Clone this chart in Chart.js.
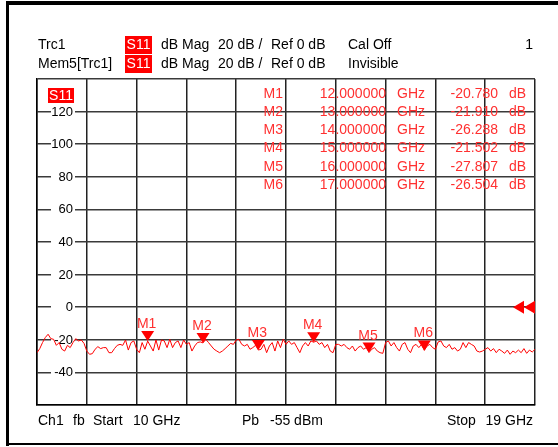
<!DOCTYPE html>
<html>
<head>
<meta charset="utf-8">
<script src="https://cdn.jsdelivr.net/npm/chart.js@4/dist/chart.umd.min.js"></script>
<style>
html,body{margin:0;padding:0;background:#fff;}
canvas{display:block;}
</style>
</head>
<body>
<canvas id="c" width="558" height="447"></canvas>
<script>
// ---- data ----
const freqs = [
10.00,10.05,10.10,10.15,10.20,10.25,10.30,10.35,10.40,10.45,10.50,10.55,10.60,10.65,10.70,10.75,10.80,10.85,10.90,10.95,
11.00,11.05,11.10,11.15,11.20,11.25,11.30,11.35,11.40,11.45,11.50,11.55,11.60,11.65,11.70,11.75,11.80,11.85,11.90,11.95,
12.00,12.05,12.10,12.15,12.20,12.25,12.30,12.35,12.40,12.45,12.50,12.55,12.60,12.65,12.70,12.75,12.80,12.85,12.90,12.95,
13.00,13.05,13.10,13.15,13.20,13.25,13.30,13.35,13.40,13.45,13.50,13.55,13.60,13.65,13.70,13.75,13.80,13.85,13.90,13.95,
14.00,14.05,14.10,14.15,14.20,14.25,14.30,14.35,14.40,14.45,14.50,14.55,14.60,14.65,14.70,14.75,14.80,14.85,14.90,14.95,
15.00,15.05,15.10,15.15,15.20,15.25,15.30,15.35,15.40,15.45,15.50,15.55,15.60,15.65,15.70,15.75,15.80,15.85,15.90,15.95,
16.00,16.05,16.10,16.15,16.20,16.25,16.30,16.35,16.40,16.45,16.50,16.55,16.60,16.65,16.70,16.75,16.80,16.85,16.90,16.95,
17.00,17.05,17.10,17.15,17.20,17.25,17.30,17.35,17.40,17.45,17.50,17.55,17.60,17.65,17.70,17.75,17.80,17.85,17.90,17.95,
18.00,18.05,18.10,18.15,18.20,18.25,18.30,18.35,18.40,18.45,18.50,18.55,18.60,18.65,18.70,18.75,18.80,18.85,18.90,18.95,
19.00];
const s11 = [
-27.9,-25.4,-21.7,-18.6,-16.6,-19.3,-19.7,-23.4,-21.7,-25.8,-26.9,-23.4,-24.8,-21.7,-19.3,-20.7,-20.1,-22.2,-26.9,-28.9,
-28.5,-25.8,-24.2,-25.4,-24.8,-24.8,-27.9,-27.9,-25.4,-23.4,-22.8,-23.4,-20.1,-26.3,-21.7,-20.7,-25.8,-27.9,-21.7,-25.8,
-20.78,-23.8,-26.9,-20.1,-26.3,-20.1,-20.7,-24.8,-19.7,-24.8,-21.7,-20.7,-24.8,-20.1,-22.8,-21.7,-26.9,-23.8,-21.7,-21.3,
-21.91,-19.7,-21.7,-23.8,-25.8,-26.9,-27.9,-26.9,-25.4,-23.8,-22.2,-22.8,-20.1,-19.7,-22.8,-23.8,-22.8,-25.8,-24.8,-23.4,
-26.288,-25.8,-22.8,-27.9,-23.8,-21.7,-26.9,-20.7,-24.8,-19.7,-22.8,-20.7,-22.8,-21.7,-24.8,-27.9,-23.8,-21.7,-23.8,-20.7,
-21.502,-20.7,-22.8,-21.7,-24.8,-22.8,-26.9,-27.9,-22.8,-22.8,-23.8,-22.8,-24.8,-25.8,-23.8,-26.9,-24.8,-23.8,-25.8,-24.8,
-27.807,-25.8,-24.8,-26.9,-27.9,-28.3,-21.7,-20.7,-23.8,-21.7,-24.8,-26.9,-22.8,-21.7,-25.8,-27.9,-23.8,-22.8,-24.8,-22.8,
-26.504,-23.8,-22.8,-24.8,-25.8,-21.3,-20.7,-23.8,-24.8,-22.8,-25.8,-24.8,-26.9,-25.8,-21.7,-24.8,-21.7,-22.8,-23.8,-26.9,
-27.5,-26.9,-25.8,-24.8,-26.9,-25.4,-27.9,-25.8,-26.9,-28.3,-26.3,-28.9,-26.9,-27.9,-26.3,-27.9,-25.4,-28.3,-26.3,-27.5,
-25.8];

const markerNames = ['M1','M2','M3','M4','M5','M6'];
const markerFreqs = [12, 13, 14, 15, 16, 17];
const markerVals  = [-20.780, -21.910, -26.288, -21.502, -27.807, -26.504];
const markerFreqText = ['12.000000','13.000000','14.000000','15.000000','16.000000','17.000000'];
const markerValText  = ['-20.780','-21.910','-26.288','-21.502','-27.807','-26.504'];

const xGridValues = [10, 10.9, 11.8, 12.7, 13.6, 14.5, 15.4, 16.3, 17.2, 18.1, 19];
const yGridValues = [-60, -40, -20, 0, 20, 40, 60, 80, 100, 120, 140];
const yTickLabels = ['120','100','80','60','40','20','0','-20','-40'];
const yTickValues = [120, 100, 80, 60, 40, 20, 0, -20, -40];
const refLevel = 0;

const FONT = '"Liberation Sans", Arial, sans-serif';
const RED = '#ff0000';
const TXTRED = '#ff3030';

const overlay = {
  id: 'overlay',
  beforeDatasetsDraw(chart) {
    const ctx = chart.ctx, ys = chart.scales.y, a = chart.chartArea;
    ctx.save();
    ctx.font = '13px ' + FONT;
    ctx.textAlign = 'right';
    ctx.textBaseline = 'middle';
    yTickValues.forEach((v, i) => {
      const y = ys.getPixelForValue(v);
      ctx.fillStyle = '#fff';
      ctx.fillRect(a.left + 14, y - 6, 24, 12);
      ctx.fillStyle = '#000';
      ctx.fillText(yTickLabels[i], a.left + 36, y + 0.5);
    });
    // S11 trace label box
    ctx.fillStyle = RED;
    ctx.fillRect(a.left + 11, a.top + 9, 26, 15);
    ctx.fillStyle = '#fff';
    ctx.font = '14px ' + FONT;
    ctx.textAlign = 'center';
    ctx.fillText('S11', a.left + 24, a.top + 17);
    ctx.restore();
  },
  afterDatasetsDraw(chart) {
    const ctx = chart.ctx, xs = chart.scales.x, ys = chart.scales.y, a = chart.chartArea;
    ctx.save();
    // markers
    markerFreqs.forEach((f, i) => {
      const px = xs.getPixelForValue(f), py = ys.getPixelForValue(markerVals[i]);
      ctx.fillStyle = RED;
      ctx.beginPath();
      ctx.moveTo(px - 6.5, py - 10);
      ctx.lineTo(px + 6.5, py - 10);
      ctx.lineTo(px, py);
      ctx.closePath();
      ctx.fill();
      ctx.fillStyle = TXTRED;
      ctx.font = '14px ' + FONT;
      ctx.textAlign = 'center';
      ctx.textBaseline = 'alphabetic';
      ctx.fillText(markerNames[i], px - 1, py - 13);
    });
    // reference level arrows
    const ry = ys.getPixelForValue(refLevel);
    ctx.fillStyle = RED;
    [a.right - 22, a.right - 11].forEach(tx => {
      ctx.beginPath();
      ctx.moveTo(tx, ry);
      ctx.lineTo(tx + 11, ry - 6.5);
      ctx.lineTo(tx + 11, ry + 6.5);
      ctx.closePath();
      ctx.fill();
    });
    // marker table
    ctx.font = '14px ' + FONT;
    ctx.fillStyle = TXTRED;
    ctx.textBaseline = 'middle';
    markerNames.forEach((m, i) => {
      const y = 94 + i * 18.2;
      ctx.textAlign = 'right';
      ctx.fillText(m, 283, y);
      ctx.fillText(markerFreqText[i], 386, y);
      ctx.textAlign = 'left';
      ctx.fillText('GHz', 397, y);
      ctx.textAlign = 'right';
      ctx.fillText(markerValText[i], 498, y);
      ctx.textAlign = 'left';
      ctx.fillText('dB', 509, y);
    });
    // header
    ctx.fillStyle = RED;
    ctx.fillRect(125, 36, 27, 18);
    ctx.fillRect(125, 55, 27, 18);
    ctx.font = '14px ' + FONT;
    ctx.textBaseline = 'middle';
    ctx.textAlign = 'center';
    ctx.fillStyle = '#fff';
    ctx.fillText('S11', 138.5, 45);
    ctx.fillText('S11', 138.5, 64);
    ctx.fillStyle = '#000';
    ctx.textAlign = 'left';
    ctx.fillText('Trc1', 38, 45);
    ctx.fillText('Mem5[Trc1]', 38, 64);
    [45, 64].forEach(y => {
      ctx.fillText('dB Mag', 161, y);
      ctx.fillText('20 dB /', 218, y);
      ctx.fillText('Ref 0 dB', 271, y);
    });
    ctx.fillText('Cal Off', 348, 45);
    ctx.fillText('Invisible', 348, 64);
    ctx.textAlign = 'right';
    ctx.fillText('1', 533, 45);
    // footer
    ctx.textAlign = 'left';
    ctx.fillText('Ch1', 38, 421);
    ctx.fillText('fb', 73, 421);
    ctx.fillText('Start', 93, 421);
    ctx.fillText('10 GHz', 133, 421);
    ctx.fillText('Pb', 242, 421);
    ctx.fillText('-55 dBm', 270, 421);
    ctx.fillText('Stop', 447, 421);
    ctx.textAlign = 'right';
    ctx.fillText('19 GHz', 533, 421);
    // outer frame
    ctx.fillStyle = '#000';
    ctx.fillRect(6, 1, 552, 4);
    ctx.fillRect(6, 1, 3, 445);
    ctx.fillRect(6, 443, 552, 2);
    ctx.restore();
  }
};

new Chart(document.getElementById('c'), {
  type: 'line',
  data: {
    datasets: [{
      data: freqs.map((f, i) => ({ x: f, y: s11[i] })),
      borderColor: RED,
      borderWidth: 1,
      pointRadius: 0,
      tension: 0,
      fill: false
    }]
  },
  options: {
    responsive: false,
    devicePixelRatio: 1,
    animation: false,
    events: [],
    layout: { padding: { left: 37, top: 79, right: 23, bottom: 42 } },
    plugins: { legend: { display: false }, tooltip: { enabled: false }, title: { display: false } },
    scales: {
      x: {
        type: 'linear', min: 10, max: 19,
        afterBuildTicks: s => { s.ticks = xGridValues.map(v => ({ value: v })); },
        ticks: { display: false },
        grid: { color: '#222', lineWidth: 1.5, drawTicks: false },
        border: { display: true, color: '#000', width: 1.5 }
      },
      y: {
        type: 'linear', min: -60, max: 140,
        afterBuildTicks: s => { s.ticks = yGridValues.map(v => ({ value: v })); },
        ticks: { display: false },
        grid: { color: '#3a3a3a', lineWidth: 1.5, drawTicks: false },
        border: { display: true, color: '#000', width: 1.5 }
      }
    }
  },
  plugins: [overlay]
});
</script>
</body>
</html>
